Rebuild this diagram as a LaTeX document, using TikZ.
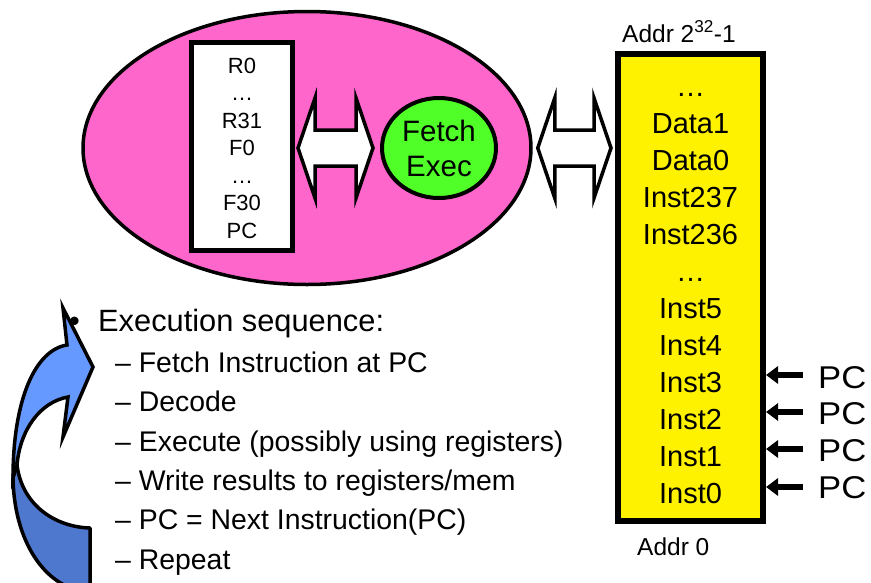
\documentclass[tikz,border=0pt]{standalone}
\usepackage{fontspec}
\setmainfont{Liberation Sans}
\newfontfamily\widesans[FakeStretch=1.1]{Liberation Sans}
\usetikzlibrary{shapes.geometric,arrows.meta,calc}
\definecolor{pinkc}{RGB}{255,102,204}
\definecolor{greenc}{RGB}{80,255,40}
\definecolor{bluelight}{RGB}{102,153,255}
\definecolor{bluedark}{RGB}{78,120,206}
\newcommand\dblarrow[2]{%
  \path[dblarr] let \p1=(#1), \p2=(#2) in
    (\x1,\y1) -- ({\x1+17pt},{\y1+50pt}) -- ({\x1+17pt},{\y1+18pt})
    -- ({\x2-17pt},{\y1+18pt}) -- ({\x2-17pt},{\y1+50pt}) -- (\x2,\y1)
    -- ({\x2-17pt},{\y1-50pt}) -- ({\x2-17pt},{\y1-18pt})
    -- ({\x1+17pt},{\y1-18pt}) -- ({\x1+17pt},{\y1-50pt}) -- cycle;}
\begin{document}
\begin{tikzpicture}[x=1pt,y=-1pt,
  lbl/.style={inner sep=0pt, anchor=base},
  lblw/.style={inner sep=0pt, anchor=base west},
  regtxt/.style={lbl, font=\fontsize{22}{22}\selectfont},
  memtxt/.style={lbl, font=\fontsize{29}{29}\selectfont},
  addrtxt/.style={lblw, font=\fontsize{24.5}{24.5}\selectfont},
  pctxt/.style={lblw, font=\widesans\fontsize{31.5}{31.5}\selectfont},
  headtxt/.style={lblw, font=\fontsize{30.8}{30.8}\selectfont},
  itemtxt/.style={lblw, font=\fontsize{28.4}{28.4}\selectfont},
  dblarr/.style={draw=black, fill=white, line width=3.5pt, line join=miter},
  pcarr/.style={line width=5.5pt, -{Triangle[length=12pt,width=17pt]}},
  band/.style={draw=black, line width=3.5pt, line join=round},
]
\useasboundingbox (0,0) rectangle (871,582);

% CPU ellipse
\node[ellipse, draw, fill=pinkc, line width=3.5pt, inner sep=0pt,
      minimum width=448pt, minimum height=273pt] (cpu) at (307,148) {};
% register file
\node[draw, fill=white, line width=5pt, inner sep=0pt,
      minimum width=101pt, minimum height=208pt] (regs) at (242,146.5) {};
\foreach \t [count=\i from 0] in {R0,…,R31,F0,…,F30,PC}
  \node[regtxt] (r\i) at (242,{73+27.5*\i}) {\t};
% fetch/exec
\node[ellipse, draw, fill=greenc, line width=4pt, inner sep=0pt, align=center,
      minimum width=114pt, minimum height=100pt,
      font=\fontsize{29.5}{35}\selectfont] (fe) at (439,148) {Fetch\\Exec};
% memory
\node[draw, fill=yellow, line width=6pt, inner sep=0pt,
      minimum width=145pt, minimum height=467pt] (mem) at (690.5,287.5) {};
\foreach \t [count=\i from 0] in {…,Data1,Data0,Inst237,Inst236,…,Inst5,Inst4,Inst3,Inst2,Inst1,Inst0}
  \node[memtxt] (m\i) at (690.5,{96+37*\i}) {\t};
\node[addrtxt] (atop) at (622,42) {Addr 2\textsuperscript{32}-1};
\node[addrtxt] (abot) at (637,555) {Addr 0};

% double arrows
\dblarrow{$(regs.east |- fe.west)+(3,0)$}{$(fe.west)+(-7,0)$}
\dblarrow{$(cpu.east)+(5,0)$}{$(mem.west |- cpu.east)+(-4,0)$}

% PC pointers
\foreach \ay/\by [count=\i] in {375/388,412/424,449/461,487/498}{
  \node[pctxt] (pc\i) at (818,\by) {PC};
  \coordinate (t\i) at (803,\ay);
  \draw[pcarr] (t\i) -- (t\i -| mem.east);
}

% execution sequence text
\node[headtxt] (bul) at (69,331) {•};
\node[headtxt] (head) at (98,331) {Execution sequence:};
\node[itemtxt] (i1) at (115,372.5) {– Fetch Instruction at PC};
\node[itemtxt] (i2) at (115,411.8) {– Decode};
\node[itemtxt] (i3) at (115,451) {– Execute (possibly using registers)};
\node[itemtxt] (i4) at (115,490.4) {– Write results to registers/mem};
\node[itemtxt] (i5) at (115,529.7) {– PC = Next Instruction(PC)};
\node[itemtxt] (i6) at (115,569) {– Repeat};

% curved loop arrow
\begin{scope}
\clip (0,0) rectangle (871,582);
\path[band, fill=bluedark]
  (13,475) .. controls (13,540) and (45,590) .. (90,592)
  -- (90,528) .. controls (55,527) and (22,505) .. (17,465) -- cycle;
\path[band, fill=bluelight, line join=miter]
  (13,478) .. controls (13,400) and (35,350) .. (67,345)
  -- (63,308) -- (93,367) -- (63,437) -- (68,397)
  .. controls (40,402) and (20,430) .. (17,465) -- cycle;
\end{scope}
\end{tikzpicture}
\end{document}
